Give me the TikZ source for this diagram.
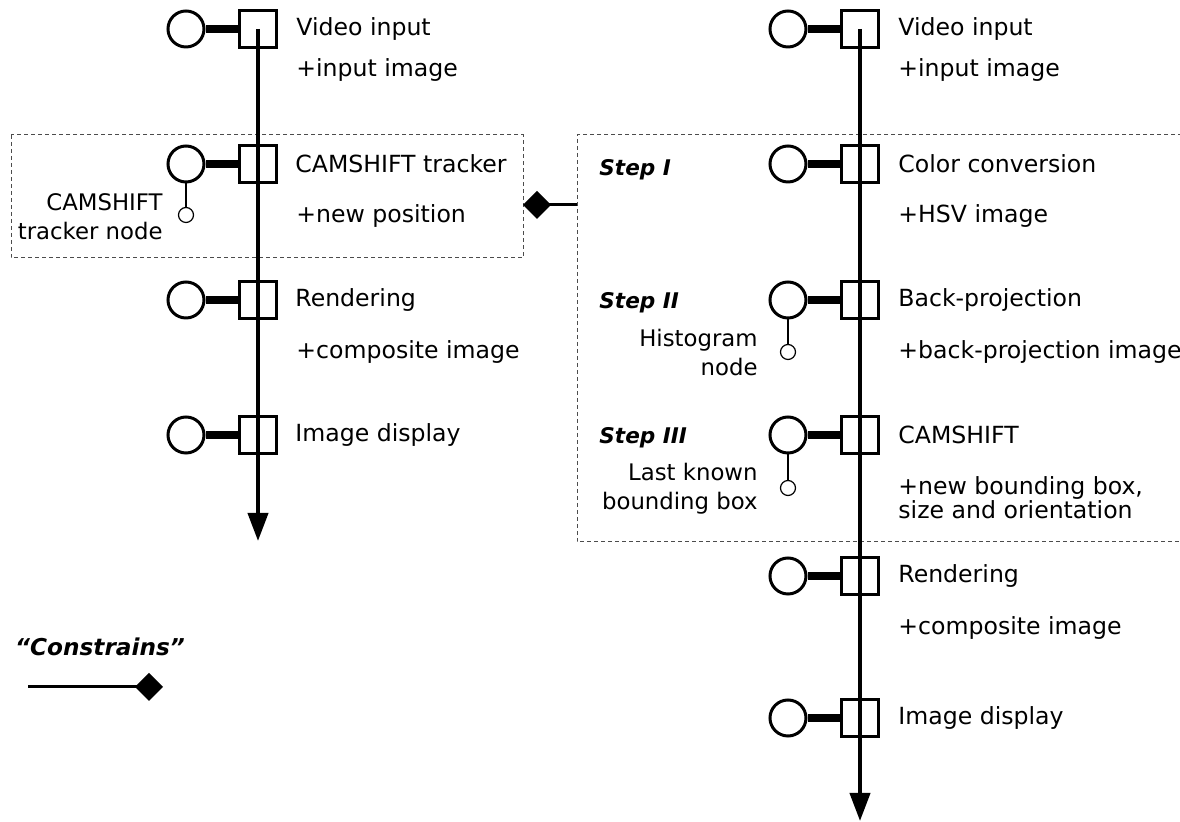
\documentclass[tikz,border=0pt]{standalone}
\usepackage{fontspec}
\setmainfont{DejaVu Sans}
\usetikzlibrary{arrows.meta}
\begin{document}
\begin{tikzpicture}[x=0.5pt,y=-0.5pt,
  port/.style={circle,draw,line width=1.5pt,fill=white,minimum size=18pt,inner sep=0},
  pinbox/.style={rectangle,draw,line width=1.5pt,fill=white,minimum size=18.5pt,inner sep=0},
  bar/.style={line width=4pt},
  flow/.style={line width=2pt,-{Triangle[width=10pt,length=14pt]}},
  subport/.style={circle,draw,line width=0.6pt,fill=white,minimum size=7.5pt,inner sep=0},
  tie/.style={line width=0.6pt},
  title/.style={anchor=west,inner sep=0,align=left,font=\fontsize{11.8}{12}\selectfont},
  note/.style={anchor=east,inner sep=0,align=right,font=\fontsize{11.4}{14.5}\selectfont},
  steptag/.style={anchor=west,inner sep=0,font=\fontsize{10.8}{13}\selectfont\bfseries\itshape},
  legendtag/.style={anchor=center,inner sep=0,font=\fontsize{11.6}{14}\selectfont\bfseries\itshape},
  group/.style={draw=black!70,line width=0.5pt,dash pattern=on 2pt off 1.5pt},
  constrain/.style={line width=1.5pt,-{Diamond[width=14pt,length=14pt]}}
]
\useasboundingbox (0,0) rectangle (1180,822);

% dashed groupings
\draw[group] (11,135) rectangle (523,258);
\draw[group] (1182,135) -- (577,135) -- (577,542) -- (1182,542);

% ---------- left pipeline ----------
\node[port]   (lc1) at (186,29)  {};
\node[pinbox] (lb1) at (258,29)  {};
\node[port]   (lc2) at (186,164) {};
\node[pinbox] (lb2) at (258,164) {};
\node[port]   (lc3) at (186,300) {};
\node[pinbox] (lb3) at (258,300) {};
\node[port]   (lc4) at (186,435) {};
\node[pinbox] (lb4) at (258,435) {};
\foreach \i in {1,...,4} \draw[bar] (lc\i) -- (lb\i);

\node[subport] (ls2) at (186,215) {};
\draw[tie] (lc2) -- (ls2);
\node[note] (lsn2) at (163,217) {CAMSHIFT\\tracker node};

\coordinate (lend) at (258,541);
\draw[flow] (lb1.center) -- (lend);

\node[title] (lt1) at (296,29)  {Video input};
\node[title] (lp1) at (296,70)  {+input image};
\node[title] (lt2) at (295,164) {CAMSHIFT tracker};
\node[title] (lp2) at (296,216) {+new position};
\node[title] (lt3) at (295,300) {Rendering};
\node[title] (lp3) at (296,352) {+composite image};
\node[title] (lt4) at (295,435) {Image display};

% ---------- right pipeline ----------
\node[port]   (rc1) at (788,29)  {};
\node[pinbox] (rb1) at (860,29)  {};
\node[port]   (rc2) at (788,164) {};
\node[pinbox] (rb2) at (860,164) {};
\node[port]   (rc3) at (788,300) {};
\node[pinbox] (rb3) at (860,300) {};
\node[port]   (rc4) at (788,435) {};
\node[pinbox] (rb4) at (860,435) {};
\node[port]   (rc5) at (788,576) {};
\node[pinbox] (rb5) at (860,576) {};
\node[port]   (rc6) at (788,718) {};
\node[pinbox] (rb6) at (860,718) {};
\foreach \i in {1,...,6} \draw[bar] (rc\i) -- (rb\i);

\node[subport] (rs3) at (788,352) {};
\draw[tie] (rc3) -- (rs3);
\node[note] (rsn3) at (758,353) {Histogram\\node};
\node[subport] (rs4) at (788,488) {};
\draw[tie] (rc4) -- (rs4);
\node[note] (rsn4) at (758,489) {Last known\\bounding box};

\coordinate (rend) at (860,821);
\draw[flow] (rb1.center) -- (rend);

\node[title] (rt1) at (898,29)  {Video input};
\node[title] (rp1) at (898,70)  {+input image};
\node[title] (rt2) at (898,164) {Color conversion};
\node[title] (rp2) at (898,216) {+HSV image};
\node[title] (rt3) at (898,300) {Back-projection};
\node[title] (rp3) at (898,352) {+back-projection image};
\node[title] (rt4) at (898,435) {CAMSHIFT};
\node[title] (rp4) at (898,498) {+new bounding box,\\size and orientation};
\node[title] (rt5) at (898,576) {Rendering};
\node[title] (rp5) at (898,628) {+composite image};
\node[title] (rt6) at (898,718) {Image display};

\node[steptag] (s1) at (599,170) {Step I};
\node[steptag] (s2) at (599,303) {Step II};
\node[steptag] (s3) at (599,438) {Step III};

% constraint between the two groupings
\coordinate (gRw) at (577,205);
\coordinate (gLe) at (523,205);
\draw[constrain] (gRw) -- (gLe);

% legend
\node[legendtag] (leg) at (100,647) {“Constrains”};
\coordinate (legA) at (28,687);
\coordinate (legB) at (163,687);
\draw[constrain] (legA) -- (legB);
\end{tikzpicture}
\end{document}
